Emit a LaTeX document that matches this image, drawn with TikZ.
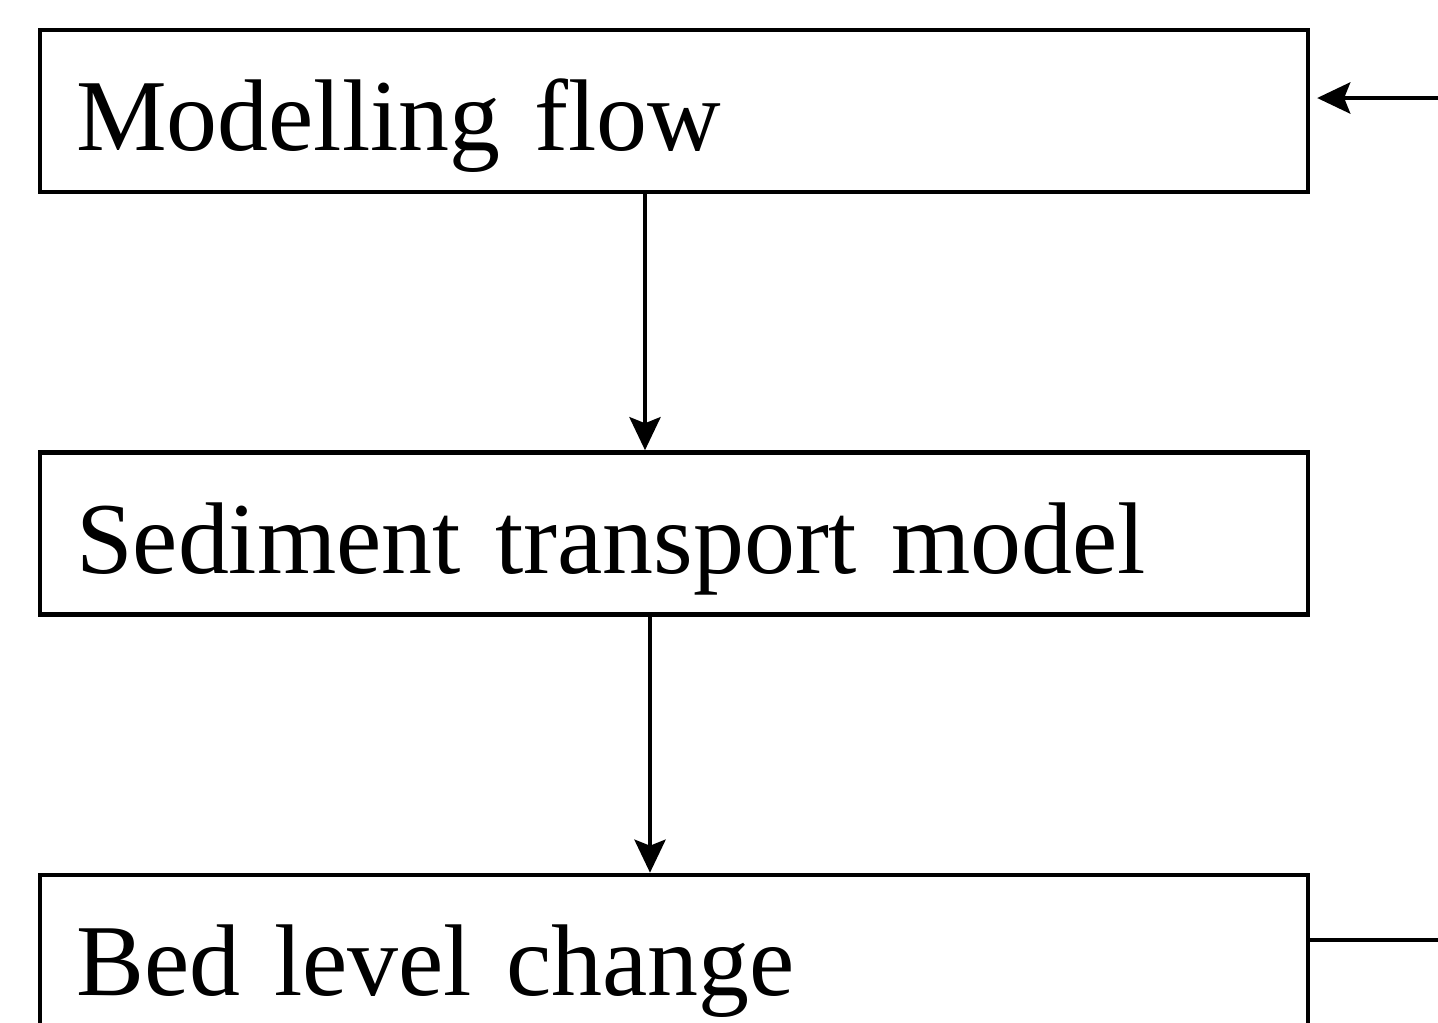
\documentclass[tikz,border=0pt]{standalone}
\usepackage{fontspec}
\setmainfont{Liberation Serif}
\usetikzlibrary{positioning,arrows.meta}

\tikzset{
  box/.style={draw, rectangle, line width=2.6pt, minimum width=25.36cm, minimum height=3.24cm,
    inner xsep=0.72cm, inner ysep=0pt, text width=23.92cm, align=left,
    text height=2cm, text depth=0.4cm, font=\fontsize{58}{60}\selectfont},
  arr/.style={line width=2.6pt, -{Stealth[length=0.66cm, width=0.62cm, inset=0.12cm]}}
}

\begin{document}
\begin{tikzpicture}[x=0.02cm, y=0.02cm]
\useasboundingbox (0,0) rectangle (1438,-1022);

\node[box] (flow) at (674,-111) {Modelling flow};
\node[box, below=5.12cm of flow] (sed) {Sediment transport model};
\node[box, below=5.12cm of sed] (bed) {Bed level change};

\coordinate (fin) at (1438,-98);
\coordinate (fout) at (1438,-940);

\draw[arr] ([xshift=-0.58cm]flow.south) -- ([xshift=-0.58cm]sed.north);
\draw[arr] ([xshift=-0.48cm]sed.south) -- ([xshift=-0.48cm]bed.north);
\draw[arr] (fin) -- ([xshift=0.14cm]fin -| flow.east);
\draw[line width=2.6pt] (fout -| bed.east) -- (fout);
\end{tikzpicture}
\end{document}
